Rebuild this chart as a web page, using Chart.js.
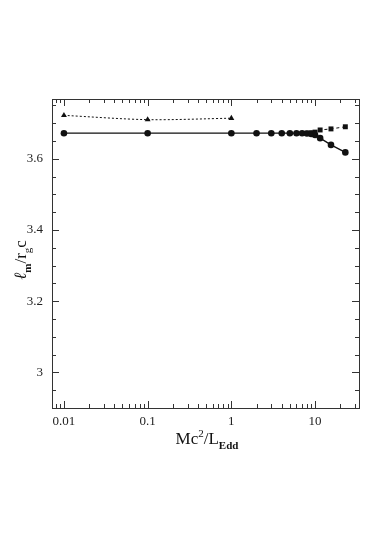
<!DOCTYPE html>
<html><head><meta charset="utf-8">
<script src="https://cdn.jsdelivr.net/npm/chart.js@4/dist/chart.umd.min.js"></script>
<style>html,body{margin:0;padding:0;background:#fff}#wrap{width:382px;height:540px}</style>
</head><body><div id="wrap"><canvas id="c" width="382" height="540"></canvas></div>
<script>
const triX = [0.01, 0.1, 1];
const triY = [3.722, 3.710, 3.714];
const circX = [0.01, 0.1, 1, 2, 3, 4, 5, 6, 7, 8, 9, 10, 11.5, 15.5, 23];
const circY = [3.672, 3.672, 3.672, 3.672, 3.672, 3.672, 3.672, 3.672, 3.672, 3.671, 3.670, 3.667, 3.658, 3.639, 3.618];
const sqX = [8, 9, 10, 11.5, 15.5, 23];
const sqY = [3.672, 3.673, 3.675, 3.681, 3.684, 3.690];
const xTicks = [0.01, 0.1, 1, 10];
const yTicks = [3, 3.2, 3.4, 3.6];
const xRange = [0.0072, 33.5];
const yRange = [2.9, 3.768];

const pts = (xs, ys) => xs.map((x, i) => ({x, y: ys[i]}));
const INK = '#111';

const inner = {
  id: 'inner',
  afterDraw(chart) {
    const {ctx, chartArea: a, scales: {x, y}} = chart;
    ctx.save();
    ctx.strokeStyle = '#333';
    ctx.lineWidth = 1;
    ctx.beginPath();
    const d0 = Math.floor(Math.log10(xRange[0])), d1 = Math.ceil(Math.log10(xRange[1]));
    for (let d = d0; d <= d1; d++) {
      for (let m = 1; m <= 9; m++) {
        const v = m * Math.pow(10, d);
        if (v < xRange[0] || v > xRange[1]) continue;
        const px = Math.round(x.getPixelForValue(v)) + 0.5;
        const len = m === 1 ? 7 : 4;
        ctx.moveTo(px, a.bottom); ctx.lineTo(px, a.bottom - len);
        ctx.moveTo(px, a.top); ctx.lineTo(px, a.top + len);
      }
    }
    for (let k = Math.ceil(yRange[0] / 0.05); k * 0.05 <= yRange[1] + 1e-9; k++) {
      const v = k * 0.05;
      const major = Math.abs(v / 0.2 - Math.round(v / 0.2)) < 1e-6;
      const py = Math.round(y.getPixelForValue(v)) + 0.5;
      const len = major ? 7 : 4;
      ctx.moveTo(a.left, py); ctx.lineTo(a.left + len, py);
      ctx.moveTo(a.right, py); ctx.lineTo(a.right - len, py);
    }
    ctx.stroke();
    ctx.strokeRect(Math.round(a.left) + 0.5, Math.round(a.top) + 0.5, Math.round(a.right - a.left), Math.round(a.bottom - a.top));
    ctx.fillStyle = INK;
    ctx.textBaseline = 'alphabetic';
    const big = '17px "Liberation Serif", serif';
    const sup = '11px "Liberation Serif", serif';
    const subB = 'bold 11px "Liberation Serif", serif';
    const parts = [
      {t: 'Mc', f: big, dy: 0},
      {t: '2', f: sup, dy: -7},
      {t: '/L', f: big, dy: 0},
      {t: 'Edd', f: subB, dy: 5}
    ];
    let w = 0;
    parts.forEach(p => { ctx.font = p.f; p.w = ctx.measureText(p.t).width; w += p.w; });
    let cx = 207 - w / 2;
    const by = 444;
    parts.forEach(p => { ctx.font = p.f; ctx.fillText(p.t, cx, by + p.dy); cx += p.w; });
    ctx.translate(26, 260);
    ctx.rotate(-Math.PI / 2);
    const yparts = [
      {t: 'ℓ', f: 'italic 17px "Liberation Serif", serif', dy: 0},
      {t: 'm', f: 'bold 11px "Liberation Serif", serif', dy: 5},
      {t: '/r', f: big, dy: 0},
      {t: 'g', f: sup, dy: 5},
      {t: 'c', f: big, dy: 0}
    ];
    w = 0;
    yparts.forEach(p => { ctx.font = p.f; p.w = ctx.measureText(p.t).width; w += p.w; });
    cx = -w / 2;
    yparts.forEach(p => { ctx.font = p.f; ctx.fillText(p.t, cx, p.dy); cx += p.w; });
    ctx.restore();
  }
};

new Chart(document.getElementById('c'), {
  type: 'scatter',
  data: {
    datasets: [
      {label: 'tri', data: pts(triX, triY), showLine: true, tension: 0.3, borderColor: INK, backgroundColor: INK,
       borderWidth: 1, borderDash: [2, 2], pointStyle: 'triangle', pointRadius: 3.4, pointBorderWidth: 0},
      {label: 'sq', data: pts(sqX, sqY), showLine: true, borderColor: INK, backgroundColor: INK,
       borderWidth: 1, borderDash: [3, 3], pointStyle: 'rect', pointRadius: 3.5, pointBorderWidth: 0},
      {label: 'circ', data: pts(circX, circY), showLine: true, borderColor: INK, backgroundColor: INK,
       borderWidth: 1.3, pointStyle: 'circle', pointRadius: 3.3, pointBorderWidth: 0}
    ]
  },
  options: {
    responsive: false,
    animation: false,
    layout: {padding: {left: 0, top: 99, right: 23, bottom: 0}},
    plugins: {legend: {display: false}, tooltip: {enabled: false}},
    scales: {
      x: {
        type: 'logarithmic', min: xRange[0], max: xRange[1],
        grid: {display: false, drawTicks: false},
        border: {display: false},
        afterBuildTicks: s => { s.ticks = xTicks.map(v => ({value: v})); },
        afterFit: s => { s.height = 132; },
        ticks: {color: '#222', padding: 6, maxRotation: 0, autoSkip: false,
          font: {family: '"Liberation Serif", serif', size: 13},
          callback: v => String(v)}
      },
      y: {
        type: 'linear', min: yRange[0], max: yRange[1],
        grid: {display: false, drawTicks: false},
        border: {display: false},
        afterBuildTicks: s => { s.ticks = yTicks.map(v => ({value: v})); },
        afterFit: s => { s.width = 52; },
        ticks: {color: '#222', padding: 9, autoSkip: false,
          font: {family: '"Liberation Serif", serif', size: 13},
          callback: v => String(v)}
      }
    }
  },
  plugins: [inner]
});
</script></body></html>
